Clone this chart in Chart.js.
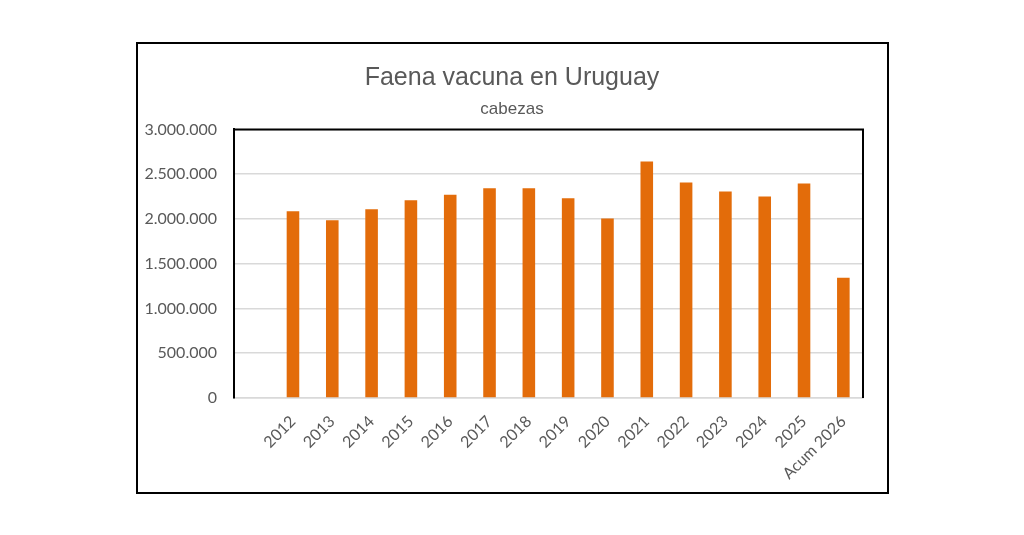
<!DOCTYPE html>
<html>
<head>
<meta charset="utf-8">
<script src="https://cdn.jsdelivr.net/npm/chart.js@4/dist/chart.umd.min.js"></script>
<style>
  html, body { margin: 0; padding: 0; background: #fff; }
  #wrap { position: relative; width: 1024px; height: 535px; }
  #frame { position: absolute; left: 136px; top: 42px; width: 753px; height: 452px;
           border: 2px solid #000; box-sizing: border-box; pointer-events: none; }
</style>
</head>
<body>
<div id="wrap">
  <canvas id="faena" width="1024" height="535"></canvas>
  <div id="frame"></div>
</div>
<script>
// categorias (la primera va vacía, como en la planilla)
const anios = ['', '2012', '2013', '2014', '2015', '2016', '2017', '2018', '2019',
               '2020', '2021', '2022', '2023', '2024', '2025', 'Acum 2026'];
// faena en cabezas
const cabezas = [null, 2086000, 1985000, 2108000, 2209000, 2269000, 2344000, 2344000, 2230000,
                 2004000, 2642000, 2407000, 2306000, 2250000, 2396000, 1343000];
const yTicks = [0, 500000, 1000000, 1500000, 2000000, 2500000, 3000000];

const gris = '#595959';
const fmtMiles = v => String(v).replace(/\B(?=(\d{3})+(?!\d))/g, '.');

// borde negro del area de trazado (arriba, izq, der)
const marcoPlot = {
    id: 'marcoPlot',
    afterDraw(chart) {
        const {ctx, chartArea: a} = chart;
        ctx.save();
        ctx.strokeStyle = '#000';
        ctx.lineWidth = 2;
        ctx.beginPath();
        ctx.moveTo(a.left, a.bottom);
        ctx.lineTo(a.left, a.top);
        ctx.lineTo(a.right, a.top);
        ctx.lineTo(a.right, a.bottom);
        ctx.stroke();
        ctx.restore();
    }
};

const ctx = document.getElementById('faena').getContext('2d');
const grafico = new Chart(ctx, {
    type: 'bar',
    data: {
        labels: anios,
        datasets: [{
            label: 'Faena vacuna',
            data: cabezas,
            backgroundColor: '#E36C0A',
            borderWidth: 0,
            categoryPercentage: 1,
            barPercentage: 0.32
        }]
    },
    options: {
        responsive: false,
        animation: false,
        // padding simetrico para que el titulo quede centrado en el marco
        layout: { padding: { left: 137, right: 137, top: 0, bottom: 0 } },
        plugins: {
            legend: { display: false },
            tooltip: { enabled: false },
            title: {
                display: true,
                text: 'Faena vacuna en Uruguay',
                color: gris,
                font: { family: "'Liberation Sans Narrow', 'Liberation Sans', Arial", size: 25, weight: 'normal' },
                padding: { top: 63, bottom: 1 }
            },
            subtitle: {
                display: true,
                text: 'cabezas',
                color: gris,
                font: { family: "'Liberation Sans', Arial", size: 17, weight: 'normal' },
                padding: { top: 5, bottom: 10 }
            }
        },
        scales: {
            x: {
                grid: { display: false },
                border: { display: true, color: '#D9D9D9', width: 1.5 },
                ticks: {
                    color: gris,
                    font: { family: "Lato, 'Open Sans', sans-serif", size: 16 },
                    minRotation: 45,
                    maxRotation: 45,
                    autoSkip: false,
                    padding: 6
                },
                afterFit(scale) { scale.height = 137; }
            },
            y: {
                min: 0,
                max: 3000000,
                grid: { color: '#D9D9D9', lineWidth: 1.5, drawTicks: false },
                border: { display: true, color: '#000', width: 2 },
                afterBuildTicks(scale) { scale.ticks = yTicks.map(v => ({ value: v })); },
                ticks: {
                    color: gris,
                    font: { family: "Lato, 'Open Sans', sans-serif", size: 16 },
                    padding: 17,
                    callback: v => fmtMiles(v)
                },
                afterFit(scale) { scale.width = 97; }
            },
            // eje vacio a la derecha: solo deja el margen entre el plot y el marco
            yDer: {
                position: 'right',
                grid: { display: false },
                border: { display: false },
                ticks: { display: false },
                afterFit(scale) { scale.width = 24; }
            }
        }
    },
    plugins: [marcoPlot]
});
</script>
</body>
</html>
